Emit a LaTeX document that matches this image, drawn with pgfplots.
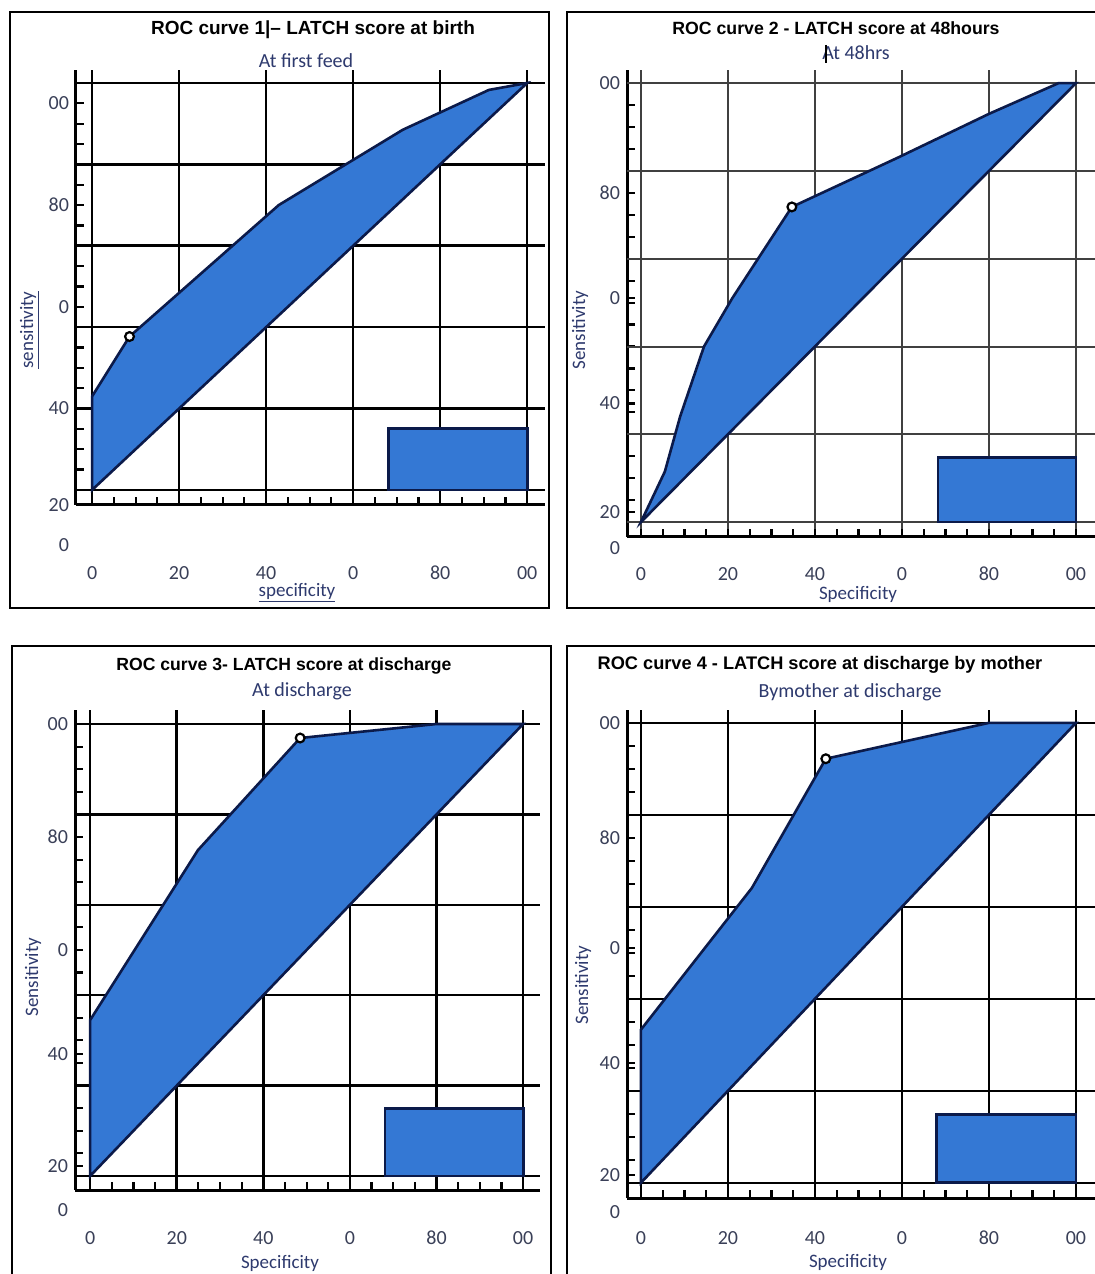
\documentclass[border=0pt]{standalone}
\usepackage{pgfplots}
\pgfplotsset{compat=1.18}
\usepackage{fontspec}
\setmainfont{Carlito}
\newfontfamily\titlefont{Liberation Sans}
\definecolor{rocblue}{HTML}{3478D4}
\definecolor{rocline}{HTML}{0B1A4A}
\definecolor{labcol}{HTML}{2E3A6E}
\definecolor{tickcol}{HTML}{3A4058}
\pgfplotsset{
  rocaxis/.style={
    scale only axis, anchor=south west,
    axis x line=bottom, axis y line=left,
    axis line style={-, line width=1.5pt, black},
    xtick={0,20,40,60,80,100},
    xticklabels={0,20,40,0,80,00},
    yticklabels={00,80,0,40,20},
    minor x tick num=3,
    minor ytick={5,10,...,100},
    xmajorgrids=true,
    major grid style={black, line width=1.3pt},
    extra y ticks={0,20,40,60,80,100},
    extra y tick labels={},
    extra y tick style={grid=major, major tick length=0pt},
    tick align=inside,
    major tick length=4pt, minor tick length=4pt,
    tick style={black, line width=1.1pt},
    tick label style={font=\fontsize{10}{12}\selectfont, text=tickcol},
    clip=false,
  },
  roc/.style={fill=rocblue, draw=rocline, line width=1.3pt},
  rect/.style={fill=rocblue, draw=rocline, line width=1.4pt},
  cut/.style={only marks, mark=*, mark size=2.2pt, mark options={fill=white, draw=black, line width=1.1pt}},
}
\tikzset{
  ttl/.style={font=\titlefont\bfseries\fontsize{9.5}{11}\selectfont, text=black},
  sub/.style={font=\fontsize{10}{12}\selectfont, text=labcol},
  lab/.style={font=\fontsize{9.5}{11}\selectfont, text=labcol},
  lowtick/.style={anchor=east, font=\fontsize{10}{12}\selectfont, text=tickcol},
}
\begin{document}
\begin{tikzpicture}
\useasboundingbox (0,0) rectangle (547pt,637pt);
\fill[white] (0,0) rectangle (547pt,637pt);
% panel frames
\draw[line width=0.8pt] (5pt,333pt) rectangle (274.5pt,631pt);
\draw[line width=0.8pt] (283.5pt,333pt) rectangle (552pt,631pt);
\draw[line width=0.8pt] (6pt,-3pt) rectangle (275.5pt,314pt);
\draw[line width=0.8pt] (283.5pt,-3pt) rectangle (552pt,314pt);

% ---------- Panel 1 ----------
\begin{axis}[rocaxis, at={(38pt,384.5pt)}, width=234.5pt, height=217.5pt,
  xmin=-3.7, xmax=104.1, ymin=-3.7, ymax=103.2,
  ytick={95,70,45,20,-3.7},
  xticklabel style={yshift=-27pt}]
\addplot[roc] coordinates {(0,0) (0,23) (8.6,37.7) (42.9,70) (71.4,88.5) (91.2,98.3) (100,100)} -- cycle;
\addplot[rect] coordinates {(68.2,0) (100,0) (100,15) (68.2,15)} -- cycle;
\addplot[cut] coordinates {(8.6,37.7)};
\node[lowtick] at (axis cs:-3.7,-13.5) {0};
\end{axis}
\node[ttl] at (156.5pt,622pt) {ROC curve 1|– LATCH score at birth};
\node[sub] at (153pt,606.5pt) {At first feed};
\node[lab, rotate=90] at (15pt,472pt) {\underline{sensitivity}};
\node[lab] at (148.5pt,340.5pt) {\underline{specificity}};

% ---------- Panel 2 ----------
\begin{axis}[rocaxis, at={(313.5pt,368.5pt)}, width=235.35pt, height=233.5pt,
  xmin=-3.2, xmax=105, ymin=-3.4, ymax=103,
  ytick={100,75,51,27,2.3},
  major grid style={black!75, line width=1pt},
  xticklabel style={yshift=-11.5pt}]
\addplot[roc] coordinates {(0,0) (5.5,11.5) (9,24) (14.5,40) (21,51) (34.7,71.8) (59,83) (80,93) (96,100) (100,100)} -- cycle;
\addplot[rect] coordinates {(68.3,0) (100,0) (100,14.8) (68.3,14.8)} -- cycle;
\addplot[cut] coordinates {(34.7,71.8)};
\node[lowtick] at (axis cs:-3.2,-5.9) {0};
\end{axis}
\node[ttl, font=\titlefont\bfseries\fontsize{8.85}{10}\selectfont] at (418pt,623pt) {ROC curve 2 - LATCH score at 48hours};
\node[sub] at (428pt,610.5pt) {At 48hrs};
\draw[black, line width=0.6pt] (413pt,614.5pt) -- (413pt,605.5pt);
\node[lab, rotate=90] at (290pt,472pt) {Sensitivity};
\node[lab] at (429pt,340pt) {Specificity};

% ---------- Panel 3 ----------
\begin{axis}[rocaxis, at={(37.5pt,42pt)}, width=232.5pt, height=240pt,
  xmin=-3.5, xmax=103.9, ymin=-3.1, ymax=103.1,
  ytick={100,75,50,27,2.2},
  xticklabel style={yshift=-17pt}]
\addplot[roc] coordinates {(0,0) (0,34.5) (24.9,72.1) (48.5,96.9) (80,100) (100,100)} -- cycle;
\addplot[rect] coordinates {(68.1,0) (100,0) (100,15) (68.1,15)} -- cycle;
\addplot[cut] coordinates {(48.5,96.9)};
\node[lowtick] at (axis cs:-3.5,-7.5) {0};
\end{axis}
\node[ttl, font=\titlefont\bfseries\fontsize{8.8}{10}\selectfont] at (142pt,304pt) {ROC curve 3- LATCH score at discharge};
\node[sub] at (151pt,291.5pt) {At discharge};
\node[lab, rotate=90] at (16.5pt,148.5pt) {Sensitivity};
\node[lab] at (140pt,5.5pt) {Specificity};

% ---------- Panel 4 ----------
\begin{axis}[rocaxis, at={(313.5pt,38pt)}, width=235.35pt, height=244pt,
  xmin=-3.2, xmax=105, ymin=-3.3, ymax=102.8,
  ytick={100,75,51,26,1.7},
  xticklabel style={yshift=-13pt}]
\addplot[roc] coordinates {(0,0) (0,33.3) (25.5,64.1) (42.5,92.2) (80,100) (100,100)} -- cycle;
\addplot[rect] coordinates {(68,0) (100,0) (100,14.8) (68,14.8)} -- cycle;
\addplot[cut] coordinates {(42.5,92.2)};
\node[lowtick] at (axis cs:-3.2,-6.3) {0};
\end{axis}
\node[ttl, font=\titlefont\bfseries\fontsize{9.1}{10}\selectfont] at (410pt,304.5pt) {ROC curve 4 - LATCH score at discharge by mother};
\node[sub] at (425pt,291pt) {Bymother at discharge};
\node[lab, rotate=90] at (291.5pt,144.5pt) {Sensitivity};
\node[lab] at (424pt,6pt) {Specificity};
\end{tikzpicture}
\end{document}
